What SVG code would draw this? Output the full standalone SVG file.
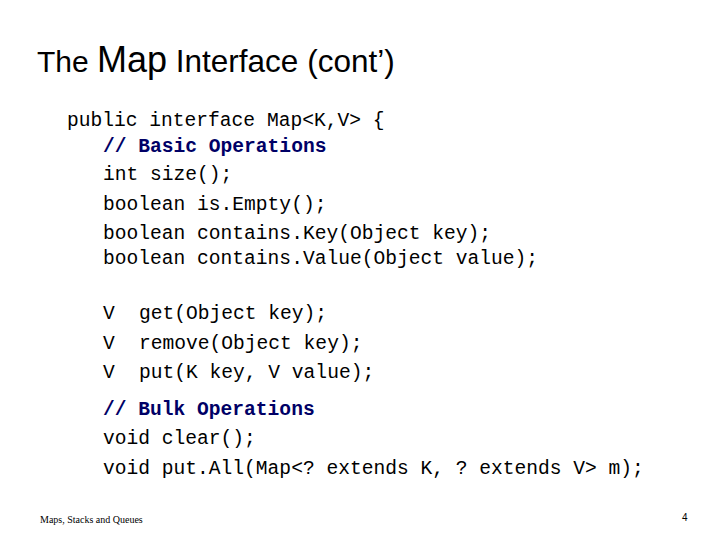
<svg xmlns="http://www.w3.org/2000/svg" width="720" height="540" viewBox="0 0 720 540">
<style>
.c{font-family:"Liberation Mono",monospace;font-size:19.6px;fill:#000}
.b{font-weight:bold;fill:#000066}
.t{font-family:"Liberation Sans",Arial,sans-serif;font-size:30px;fill:#000}
</style>
<rect width="720" height="540" fill="#fff"/>
<g id="title"><text class="t" x="37" y="72">The <tspan font-size="36">Map</tspan><tspan font-size="31.5"> Interface (cont’)</tspan></text></g>
<g id="code">
<text class="c" x="67" y="126">public interface Map&lt;K,V&gt; {</text>
<text class="c b" x="103" y="152">// Basic Operations</text>
<text class="c" x="103" y="180">int size();</text>
<text class="c" x="103" y="210">boolean is.Empty();</text>
<text class="c" x="103" y="239">boolean contains.Key(Object key);</text>
<text class="c" x="103" y="264">boolean contains.Value(Object value);</text>
<text class="c" x="103" y="319">V</text><text class="c" x="139" y="319">get(Object key);</text>
<text class="c" x="103" y="349">V</text><text class="c" x="139" y="349">remove(Object key);</text>
<text class="c" x="103" y="378">V</text><text class="c" x="139" y="378">put(K key, V value);</text>
<text class="c b" x="103" y="415">// Bulk Operations</text>
<text class="c" x="103" y="444">void clear();</text>
<text class="c" x="103" y="474">void put.All(Map&lt;? extends K, ? extends V&gt; m);</text>
</g>
<g id="footer">
<text x="40" y="523" font-family="Liberation Serif,serif" font-size="10">Maps, Stacks and Queues</text>
<text x="682" y="521" font-family="Liberation Sans,sans-serif" font-size="10">4</text>
</g>
</svg>
